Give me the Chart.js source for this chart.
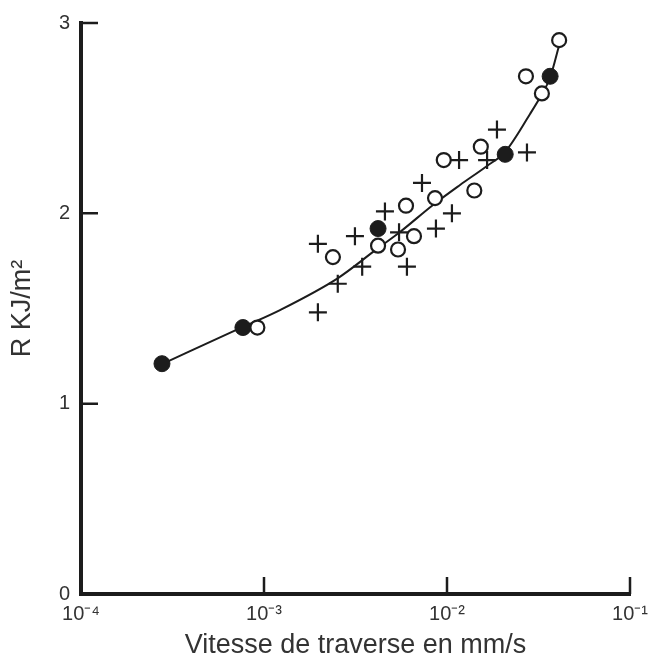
<!DOCTYPE html>
<html>
<head>
<meta charset="utf-8">
<script src="https://cdn.jsdelivr.net/npm/chart.js@4.4.1/dist/chart.umd.min.js"></script>
<style>
  html, body { margin: 0; padding: 0; background: #fff; }
  #wrap { width: 658px; height: 662px; }
</style>
</head>
<body>
<div id="wrap"><canvas id="c" width="658" height="662"></canvas></div>
<script>
// ---- Data ----
const xTickValues = [1e-4, 1e-3, 1e-2, 1e-1];
const xTickLabels = ['10\u207B\u2074', '10\u207B\u00B3', '10\u207B\u00B2', '10\u207B\u00B9'];
const yTickValues = [0, 1, 2, 3];

// fitted curve
const curveX = [2.77e-4, 7.67e-4, 1.223e-3, 2.538e-3, 4.145e-3, 5.536e-3, 8.385e-3, 1.178e-2, 1.654e-2, 2.074e-2, 2.842e-2, 3.304e-2, 3.654e-2, 4.145e-2];
const curveY = [1.208, 1.403, 1.492, 1.660, 1.813, 1.902, 2.044, 2.149, 2.249, 2.322, 2.522, 2.627, 2.711, 2.90];

// filled circles
const filledX = [2.77e-4, 7.67e-4, 4.2e-3, 2.08e-2, 3.66e-2];
const filledY = [1.21, 1.40, 1.92, 2.31, 2.72];

// open circles
const openX = [9.2e-4, 2.38e-3, 4.2e-3, 5.4e-3, 5.97e-3, 6.6e-3, 8.6e-3, 9.6e-3, 1.41e-2, 1.53e-2, 2.70e-2, 3.30e-2, 4.10e-2];
const openY = [1.40, 1.77, 1.83, 1.81, 2.04, 1.88, 2.08, 2.28, 2.12, 2.35, 2.72, 2.63, 2.91];

// crosses
const plusX = [1.97e-3, 2.53e-3, 1.97e-3, 3.14e-3, 3.44e-3, 4.58e-3, 5.47e-3, 6.04e-3, 7.3e-3, 8.7e-3, 1.064e-2, 1.164e-2, 1.656e-2, 1.875e-2, 2.735e-2];
const plusY = [1.48, 1.63, 1.84, 1.88, 1.72, 2.01, 1.90, 1.72, 2.16, 1.92, 2.00, 2.28, 2.28, 2.44, 2.32];

const xTitle = 'Vitesse de traverse en mm/s';
const yTitle = 'R KJ/m\u00B2';

// ---- helpers ----
const pts = (xs, ys) => xs.map((x, i) => ({ x: x, y: ys[i] }));
const INK = '#1c1c1c';
const FONT = "'Liberation Sans', Arial, Helvetica, sans-serif";

const innerTicks = {
  id: 'innerTicks',
  afterDatasetsDraw(chart) {
    const ctx = chart.ctx;
    const xs = chart.scales.x, ys = chart.scales.y;
    const ca = chart.chartArea;
    ctx.save();
    ctx.strokeStyle = INK;
    ctx.lineWidth = 2.5;
    ctx.beginPath();
    yTickValues.slice(1).forEach(v => {
      const py = ys.getPixelForValue(v);
      ctx.moveTo(ca.left, py);
      ctx.lineTo(ca.left + 17, py);
    });
    xTickValues.slice(1).forEach(v => {
      const px = xs.getPixelForValue(v);
      ctx.moveTo(px, ca.bottom);
      ctx.lineTo(px, ca.bottom - 17);
    });
    ctx.stroke();
    ctx.restore();
  }
};

new Chart(document.getElementById('c'), {
  type: 'scatter',
  data: {
    datasets: [
      {
        label: 'courbe',
        data: pts(curveX, curveY),
        showLine: true,
        borderColor: INK,
        borderWidth: 2,
        pointRadius: 0,
        cubicInterpolationMode: 'monotone',
        order: 4
      },
      {
        label: 'filled',
        data: pts(filledX, filledY),
        pointStyle: 'circle',
        pointRadius: 8,
        backgroundColor: INK,
        borderColor: INK,
        borderWidth: 1,
        order: 3
      },
      {
        label: 'open',
        data: pts(openX, openY),
        pointStyle: 'circle',
        pointRadius: 7,
        backgroundColor: '#ffffff',
        borderColor: INK,
        borderWidth: 2.2,
        order: 2
      },
      {
        label: 'plus',
        data: pts(plusX, plusY),
        pointStyle: 'cross',
        pointRadius: 9,
        borderColor: INK,
        borderWidth: 2.2,
        order: 1
      }
    ]
  },
  options: {
    responsive: false,
    animation: false,
    events: [],
    layout: { padding: { top: 23, right: 28, left: 0, bottom: 0 } },
    plugins: { legend: { display: false }, tooltip: { enabled: false } },
    scales: {
      x: {
        type: 'logarithmic',
        min: 1e-4,
        max: 1e-1,
        afterBuildTicks: (s) => { s.ticks = xTickValues.map(v => ({ value: v })); },
        afterFit: (s) => { s.height = 68; },
        grid: { display: false, drawTicks: false },
        border: { display: true, color: INK, width: 4 },
        ticks: {
          autoSkip: false,
          maxRotation: 0,
          padding: 8,
          color: '#333',
          font: { family: FONT, size: 20 },
          callback: (v) => { const i = xTickValues.findIndex(t => Math.abs(t - v) / t < 1e-6); return i >= 0 ? xTickLabels[i] : ''; }
        },
        title: {
          display: true,
          text: xTitle,
          color: '#333',
          font: { family: FONT, size: 27 },
          padding: { top: 6, bottom: 0 }
        }
      },
      y: {
        type: 'linear',
        min: 0,
        max: 3,
        afterBuildTicks: (s) => { s.ticks = yTickValues.map(v => ({ value: v })); },
        afterFit: (s) => { s.width = 81; },
        grid: { display: false, drawTicks: false },
        border: { display: true, color: INK, width: 4 },
        ticks: {
          padding: 11,
          color: '#333',
          font: { family: FONT, size: 20 }
        },
        title: {
          display: true,
          text: yTitle,
          color: '#333',
          font: { family: FONT, size: 27 },
          padding: { top: 6, bottom: 0 }
        }
      }
    }
  },
  plugins: [innerTicks]
});
</script>
</body>
</html>
